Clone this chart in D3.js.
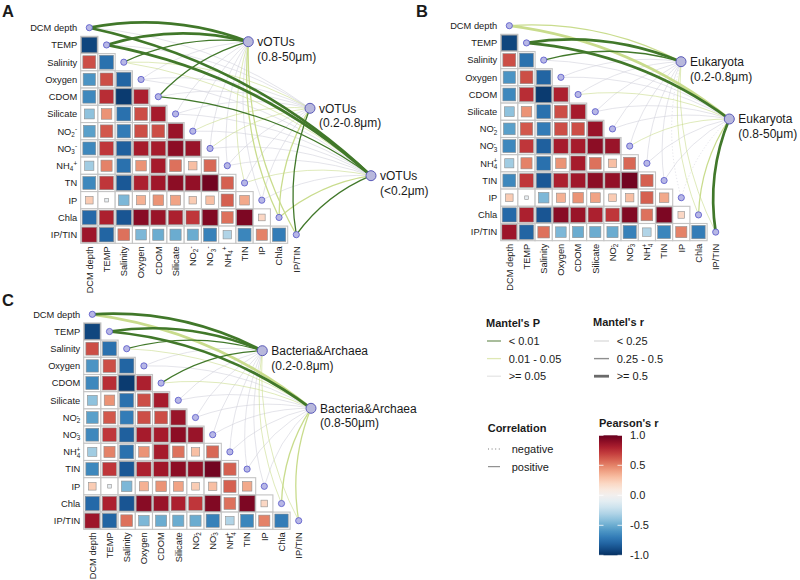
<!DOCTYPE html>
<html><head><meta charset="utf-8">
<script src="https://cdn.jsdelivr.net/npm/d3@7"></script>
<style>
body{margin:0;background:#fff}
svg{display:block}
text{font-family:"Liberation Sans",Arial,Helvetica,sans-serif;fill:#1a1a1a}
</style>
</head><body>
<svg id="chart" width="800" height="580"></svg>
<script>
// ---------------- DATA ----------------
const variables = ["DCM depth","TEMP","Salinity","Oxygen","CDOM","Silicate","NO2","NO3","NH4","TIN","IP","Chla","IP/TIN"];
const rowLabelsA = ["DCM depth","TEMP","Salinity","Oxygen","CDOM","Silicate","NO2","NO3","NH4","TN","IP","Chla","IP/TIN"];
const rowLabelsBC = ["DCM depth","TEMP","Salinity","Oxygen","CDOM","Silicate","NO2","NO3","NH4","TIN","IP","Chla","IP/TIN"];
const colLabels = ["DCM depth","TEMP","Salinity","Oxygen","CDOM","Silicate","NO2","NO3","NH4","TIN","IP","Chla","IP/TIN"];

// Pearson's r, lower triangle (row i vs columns 0..i-1)
const corrRows = [
  [],
  [-0.92],
  [0.65,-0.75],
  [-0.6,0.65,-0.8],
  [-0.65,0.75,-0.96,0.8],
  [-0.4,0.45,-0.75,0.65,0.82],
  [-0.55,0.62,-0.7,0.65,0.65,0.86],
  [-0.65,0.72,-0.82,0.82,0.82,0.9,0.86],
  [-0.35,0.5,-0.75,0.45,0.82,0.55,0.3,0.58],
  [-0.65,0.72,-0.85,0.8,0.84,0.9,0.88,0.97,0.6],
  [0.25,-0.07,-0.45,0.35,0.45,0.4,0.25,0.3,0.6,0.38],
  [-0.78,0.8,-0.86,0.91,0.86,0.8,0.72,0.93,0.55,0.94,0.2],
  [0.85,-0.8,0.55,-0.45,-0.5,-0.5,-0.5,-0.68,-0.3,-0.66,0.5,-0.7]
];

// Panel A: vOTUs
const groupsA = [["vOTUs","(0.8-50μm)"],["vOTUs","(0.2-0.8μm)"],["vOTUs","(<0.2μm)"]];
const mantelR_A = [
  [0.55,0.5,0.3,0.1,0.3,0.12,0.15,0.18,0.08,0.2,0.1,0.35,0.3],
  [0.15,0.2,0.2,0.1,0.15,0.1,0.2,0.2,0.1,0.15,0.1,0.45,0.35],
  [0.6,0.55,0.2,0.1,0.35,0.1,0.15,0.1,0.1,0.2,0.1,0.45,0.3]
];
const mantelP_A = [
  [0.001,0.001,0.005,0.2,0.008,0.3,0.2,0.1,0.5,0.04,0.3,0.02,0.03],
  [0.1,0.2,0.03,0.3,0.15,0.2,0.04,0.02,0.4,0.1,0.3,0.01,0.005],
  [0.001,0.001,0.03,0.2,0.005,0.3,0.1,0.2,0.4,0.03,0.3,0.01,0.006]
];

// Panel B: Eukaryota
const groupsB = [["Eukaryota","(0.2-0.8μm)"],["Eukaryota","(0.8-50μm)"]];
const mantelR_B = [
  [0.3,0.5,0.3,0.1,0.1,0.12,0.1,0.1,0.1,0.15,-0.1,0.2,0.2],
  [0.5,0.55,0.15,0.1,0.2,0.1,0.15,0.2,0.1,0.15,-0.1,0.3,0.55]
];
const mantelP_B = [
  [0.02,0.001,0.005,0.2,0.2,0.3,0.3,0.2,0.4,0.2,0.5,0.03,0.04],
  [0.02,0.001,0.1,0.3,0.03,0.2,0.1,0.03,0.3,0.1,0.4,0.02,0.001]
];

// Panel C: Bacteria&Archaea
const groupsC = [["Bacteria&Archaea","(0.2-0.8μm)"],["Bacteria&Archaea","(0.8-50μm)"]];
const mantelR_C = [
  [0.5,0.55,0.3,0.1,0.3,0.1,0.1,0.1,0.1,0.15,0.1,0.2,0.2],
  [0.5,0.55,0.2,0.1,0.2,0.1,0.15,0.1,0.1,0.15,0.1,0.25,0.25]
];
const mantelP_C = [
  [0.001,0.001,0.005,0.2,0.005,0.3,0.2,0.2,0.3,0.2,0.3,0.03,0.04],
  [0.02,0.001,0.03,0.3,0.03,0.2,0.1,0.2,0.3,0.1,0.2,0.02,0.03]
];

const pBreaks = [0.01,0.05];
const pLabels = ["< 0.01","0.01 - 0.05",">= 0.05"];
const rBreaks = [0.25,0.5];
const rLabels = ["< 0.25","0.25 - 0.5",">= 0.5"];
const corrLegend = ["negative","positive"];
const colorbarTicks = [1.0,0.5,0.0,-0.5,-1.0];

// ---------------- STYLE / LAYOUT ----------------
const svg = d3.select("#chart");
const pColor = d3.scaleThreshold().domain(pBreaks).range(["#41782a","#c9dc8d","#d2d2dc"]);
const rWidth = d3.scaleThreshold().domain(rBreaks).range([0.6,1.3,2.7]);
const fillColor = r => d3.interpolateRdBu((1 - r) / 2);

const chem = {
  "NO2": ["NO","2","-"],
  "NO3": ["NO","3","-"],
  "NH4": ["NH","4","+"]
};
function fillLabel(t, name, stacked, fs){
  const m = chem[name];
  if(!m){ t.text(name); return; }
  t.append("tspan").text(m[0]);
  t.append("tspan").attr("dy", 2.3).attr("font-size", fs*0.68).text(m[1]);
  t.append("tspan").attr("dy", -5.6).attr("dx", stacked ? -3.8 : 0.2).attr("font-size", fs*0.68).text(m[2]);
}

const panels = [
  {letter:"A", lx:2, ly:17, x0:89.3, y0:27.7, s:17.25, rows:rowLabelsA, stacked:false,
   groups:groupsA, R:mantelR_A, P:mantelP_A,
   nodes:[[248.3,41.7],[310,108.3],[371,175.7]]},
  {letter:"B", lx:416, ly:17, x0:509.3, y0:25.7, s:17.2, rows:rowLabelsBC, stacked:true,
   groups:groupsB, R:mantelR_B, P:mantelP_B,
   nodes:[[681,61.7],[729.3,119]]},
  {letter:"C", lx:2, ly:306, x0:92.3, y0:314.3, s:17.2, rows:rowLabelsBC, stacked:true,
   groups:groupsC, R:mantelR_C, P:mantelP_C,
   nodes:[[262.3,350.7],[311,408.3]]}
];

function curvePath(x1,y1,x2,y2,k){
  const dx = x2-x1, dy = y2-y1;
  const cx = (x1+x2)/2 + k*dy, cy = (y1+y2)/2 - k*dx;
  return `M${x1},${y1}Q${cx},${cy} ${x2},${y2}`;
}

panels.forEach(cfg => {
  const n = variables.length, s = cfg.s;
  const x = d3.scalePoint().domain(variables).range([cfg.x0, cfg.x0 + (n-1)*s]);
  const y = d3.scalePoint().domain(variables).range([cfg.y0, cfg.y0 + (n-1)*s]);
  const side = d3.scaleSqrt().domain([0,1]).range([0, s]).clamp(true);
  const g = svg.append("g");

  g.append("text").attr("x", cfg.lx).attr("y", cfg.ly)
    .attr("font-size", 16.5).attr("font-weight", "bold").attr("fill", "#000").text(cfg.letter);

  // edges
  const edges = [];
  cfg.groups.forEach((grp, gi) => {
    variables.forEach((v, vi) => {
      edges.push({gi, v, r: cfg.R[gi][vi], p: cfg.P[gi][vi]});
    });
  });
  edges.sort((a,b) => b.p - a.p);
  g.append("g").selectAll("path").data(edges).join("path")
    .attr("d", d => curvePath(x(d.v), y(d.v), cfg.nodes[d.gi][0], cfg.nodes[d.gi][1], 0.14))
    .attr("fill", "none")
    .attr("stroke", d => pColor(d.p))
    .attr("stroke-width", d => rWidth(Math.abs(d.r)))
    .attr("stroke-dasharray", d => d.r < 0 ? "1.2,2" : null);

  // cells
  const cells = [];
  corrRows.forEach((row, i) => row.forEach((r, j) => cells.push({i, j, r})));
  const cg = g.append("g");
  cg.selectAll("rect.bg").data(cells).join("rect").attr("class","bg")
    .attr("x", d => x(variables[d.j]) - s/2).attr("y", d => y(variables[d.i]) - s/2)
    .attr("width", s).attr("height", s)
    .attr("fill", "#fff").attr("stroke", "#c4c4c4").attr("stroke-width", 1.1);
  cg.selectAll("rect.sq").data(cells).join("rect").attr("class","sq")
    .attr("x", d => x(variables[d.j]) - side(Math.abs(d.r))/2 + 0.5)
    .attr("y", d => y(variables[d.i]) - side(Math.abs(d.r))/2 + 0.5)
    .attr("width", d => Math.max(side(Math.abs(d.r)) - 1, 1))
    .attr("height", d => Math.max(side(Math.abs(d.r)) - 1, 1))
    .attr("fill", d => fillColor(d.r))
    .attr("stroke", "#8f8f8f").attr("stroke-width", 0.6);

  // diagonal points
  g.append("g").selectAll("circle").data(variables).join("circle")
    .attr("cx", d => x(d)).attr("cy", d => y(d)).attr("r", 3.1)
    .attr("fill", "#b7b7e6").attr("stroke", "#5656c8").attr("stroke-width", 0.8);

  // row labels
  g.append("g").selectAll("text").data(variables).join("text")
    .attr("x", cfg.x0 - s/2 - 3.5).attr("y", d => y(d) + 3.3)
    .attr("text-anchor", "end").attr("font-size", 9.3)
    .each(function(d, i){ fillLabel(d3.select(this), cfg.rows[i], cfg.stacked, 9.3); });

  // column labels
  const yb = cfg.y0 + (n-1)*s + s/2 + 3;
  g.append("g").selectAll("text").data(variables).join("text")
    .attr("transform", d => `translate(${x(d) + 3.3},${yb}) rotate(-90)`)
    .attr("text-anchor", "end").attr("font-size", 9.3)
    .each(function(d, i){ fillLabel(d3.select(this), colLabels[i], cfg.stacked, 9.3); });

  // group nodes
  const ng = g.append("g").selectAll("g").data(cfg.groups).join("g")
    .attr("transform", (d, i) => `translate(${cfg.nodes[i][0]},${cfg.nodes[i][1]})`);
  ng.append("circle").attr("r", 5).attr("fill", "#b8b8dc").attr("stroke", "#5a5ab8").attr("stroke-width", 1);
  ng.append("text").attr("x", 9).attr("y", 4.3).attr("font-size", 12).text(d => d[0]);
  ng.append("text").attr("x", 9).attr("y", 19).attr("font-size", 12).text(d => d[1]);
});

// ---------------- LEGENDS ----------------
const lg = svg.append("g").attr("font-size", 11);
lg.append("text").attr("x", 486).attr("y", 326.5).attr("font-weight", "bold").text("Mantel's P");
const pKeyColors = ["#7a9a66","#dfe8b4","#e6e6e6"];
pLabels.forEach((lab, i) => {
  const cy = 341 + i*17.6;
  lg.append("line").attr("x1", 487).attr("x2", 501).attr("y1", cy).attr("y2", cy)
    .attr("stroke", pKeyColors[i]).attr("stroke-width", 1.3);
  lg.append("text").attr("x", 508.7).attr("y", cy + 4).text(lab);
});
lg.append("text").attr("x", 593).attr("y", 325.5).attr("font-weight", "bold").text("Mantel's r");
const rKeyColors = ["#cfcfcf","#8e8e8e","#6a6a6a"];
const rKeyWidths = [1, 1.4, 2.8];
rLabels.forEach((lab, i) => {
  const cy = 341 + i*17.6;
  lg.append("line").attr("x1", 594).attr("x2", 609).attr("y1", cy).attr("y2", cy)
    .attr("stroke", rKeyColors[i]).attr("stroke-width", rKeyWidths[i]);
  lg.append("text").attr("x", 616.7).attr("y", cy + 4).text(lab);
});
lg.append("text").attr("x", 487.7).attr("y", 431.5).attr("font-weight", "bold").text("Correlation");
corrLegend.forEach((lab, i) => {
  const cy = 449 + i*17.7;
  lg.append("line").attr("x1", 488).attr("x2", 500).attr("y1", cy).attr("y2", cy)
    .attr("stroke", "#555").attr("stroke-width", 0.8)
    .attr("stroke-dasharray", lab === "negative" ? "1,2.6" : null);
  lg.append("text").attr("x", 511.7).attr("y", cy + 4).text(lab);
});
lg.append("text").attr("x", 599).attr("y", 427).attr("font-weight", "bold").text("Pearson's r");
const cbY = d3.scaleLinear().domain([-1, 1]).range([555.3, 435.3]);
const defs = svg.append("defs");
const grad = defs.append("linearGradient").attr("id", "cbgrad")
  .attr("x1", 0).attr("y1", 1).attr("x2", 0).attr("y2", 0);
d3.range(0, 1.0001, 0.05).forEach(t => {
  grad.append("stop").attr("offset", t).attr("stop-color", fillColor(-1 + 2*t));
});
lg.append("rect").attr("x", 599).attr("y", 435.3).attr("width", 23).attr("height", 120)
  .attr("fill", "url(#cbgrad)");
colorbarTicks.forEach(v => {
  lg.append("line").attr("x1", 599).attr("x2", 603.5).attr("y1", cbY(v)).attr("y2", cbY(v))
    .attr("stroke", "#fff").attr("stroke-width", 0.8);
  lg.append("line").attr("x1", 617.5).attr("x2", 622).attr("y1", cbY(v)).attr("y2", cbY(v))
    .attr("stroke", "#fff").attr("stroke-width", 0.8);
  lg.append("text").attr("x", 630).attr("y", cbY(v) + 4).text(v.toFixed(1));
});
</script>
</body></html>
